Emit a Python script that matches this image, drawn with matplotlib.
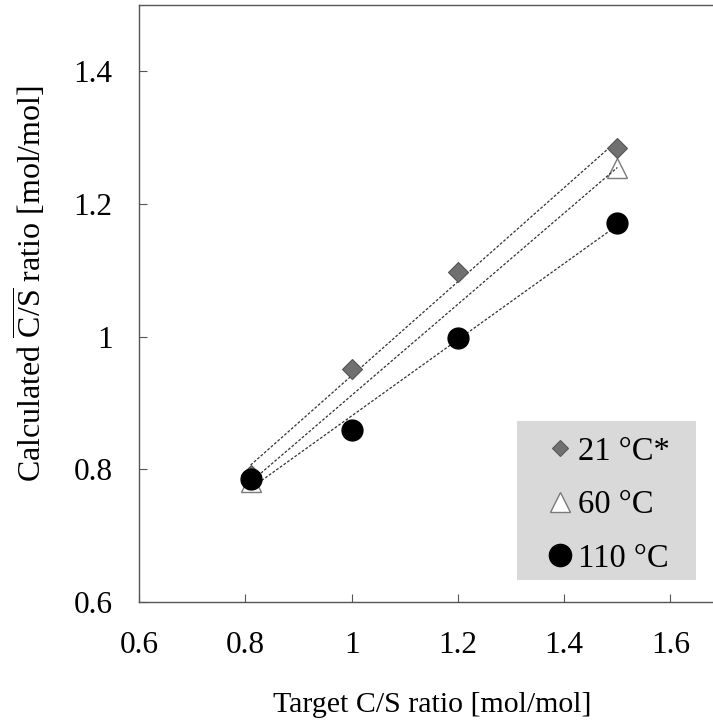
import matplotlib
matplotlib.use("Agg")
import matplotlib.pyplot as plt
from matplotlib.lines import Line2D
from matplotlib.patches import Rectangle
import numpy as np

plt.rcParams['font.family'] = ['Liberation Serif', 'DejaVu Serif']
plt.rcParams['mathtext.fontset'] = 'custom'
plt.rcParams['mathtext.rm'] = 'Liberation Serif'

# measured C/S ratios per curing temperature
x_21 = [0.81, 1.0, 1.2, 1.5]
y_21 = [0.792, 0.952, 1.098, 1.284]
x_60 = [0.81, 1.5]
y_60 = [0.781, 1.255]
x_110 = [0.81, 1.0, 1.2, 1.5]
y_110 = [0.785, 0.860, 0.998, 1.172]
labels = ['21 °C*', '60 °C', '110 °C']

fig = plt.figure(figsize=(7.13, 7.22), dpi=100)
ax = fig.add_axes([0.195, 0.1662, 0.805, 0.8269])

# dotted linear trend line for each series
trend_style = dict(color='#333333', linewidth=0.9, linestyle=(0, (2.2, 1.4)), zorder=2)
for xs, ys in [(x_21, y_21), (x_60, y_60), (x_110, y_110)]:
    k, b = np.polyfit(xs, ys, 1)
    xx = np.array([min(xs), max(xs)])
    ax.plot(xx, k * xx + b, **trend_style)

ax.plot(x_60, y_60, linestyle='none', marker='^', ms=14, mfc='white', mec='#7a7a7a', mew=1.0, zorder=1.5)
ax.plot(x_21, y_21, linestyle='none', marker='D', ms=10, mfc='#707070', mec='#555555', mew=0.8, zorder=3)
ax.plot(x_110, y_110, linestyle='none', marker='o', ms=15, mfc='black', mec='black', zorder=4)

ax.set_xlim(0.6, 1.68)
ax.set_ylim(0.6, 1.5)
ax.set_xticks([0.6, 0.8, 1.0, 1.2, 1.4, 1.6])
ax.set_xticklabels(['0.6', '0.8', '1', '1.2', '1.4', '1.6'])
ax.set_yticks([0.6, 0.8, 1.0, 1.2, 1.4])
ax.set_yticklabels(['0.6', '0.8', '1', '1.2', '1.4'])
ax.tick_params(direction='in', length=6, width=0.8, color='#555555', labelsize=22.5)
ax.tick_params(axis='x', pad=21)
ax.tick_params(axis='y', pad=19)
ax.spines['right'].set_visible(False)
for s in ['left', 'bottom', 'top']:
    ax.spines[s].set_color('#555555')
    ax.spines[s].set_linewidth(1.0)

ax.set_xlabel('Target C/S ratio [mol/mol]', fontsize=21.5, va='baseline')
ax.xaxis.set_label_coords(0.511, -0.1843)
ax.set_ylabel(r'Calculated $\overline{\mathrm{C/S}}$ ratio [mol/mol]', fontsize=23, va='center')
ax.yaxis.set_label_coords(-0.1908, 0.5327)

# grey legend panel
ax.add_patch(Rectangle((0.6585, 0.0369), 0.3115, 0.2663, transform=ax.transAxes,
                       facecolor='#d9d9d9', edgecolor='none', zorder=5))
handles = [
    Line2D([], [], linestyle='none', marker='D', ms=8.3, mfc='#707070', mec='#5a5a5a', mew=0.8),
    Line2D([], [], linestyle='none', marker='^', ms=15, mfc='white', mec='#7a7a7a', mew=1.0),
    Line2D([], [], linestyle='none', marker='o', ms=16, mfc='black', mec='black'),
]
leg = ax.legend(handles, labels, loc='upper left', bbox_to_anchor=(0.7143, 0.278),
                borderaxespad=0, borderpad=0, fontsize=23.5, frameon=False,
                handlelength=0.7, handletextpad=0.18, labelspacing=0.71)
leg.set_zorder(6)

fig.savefig('out.png', dpi=100)
